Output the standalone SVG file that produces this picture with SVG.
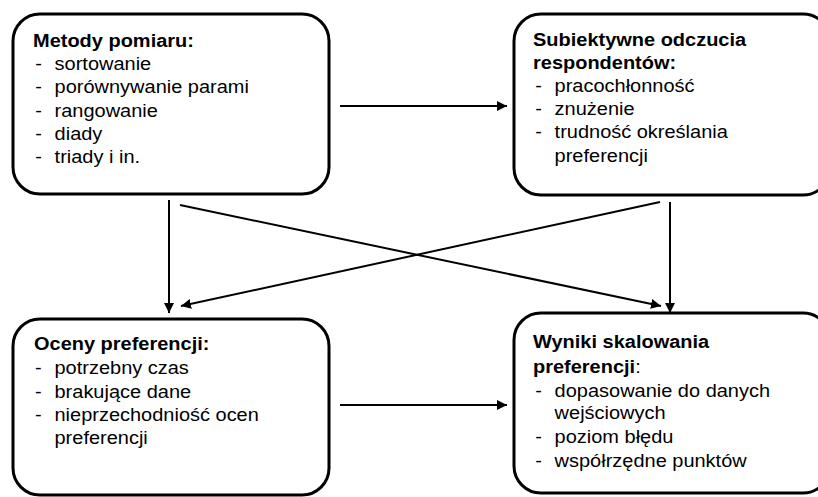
<svg xmlns="http://www.w3.org/2000/svg" width="818" height="497" viewBox="0 0 818 497">
<defs>
<marker id="ah" viewBox="0 0 10 10" refX="10" refY="5" markerWidth="5" markerHeight="5" orient="auto" markerUnits="strokeWidth">
<path d="M0,0 L10,5 L0,10 z" fill="#000"/>
</marker>
<style>
.box{fill:#fff;stroke:#000;stroke-width:3}
.t{font-family:"Liberation Sans",Arial,sans-serif;font-size:18.5px;fill:#000}
.b{font-weight:bold}
.c{stroke:#000;stroke-width:2;fill:none;marker-end:url(#ah)}
</style>
</defs>
<rect width="818" height="497" fill="#fff"/>
<g id="connectors">
<line class="c" x1="340" y1="106" x2="507" y2="106"/>
<line class="c" x1="340" y1="405" x2="507" y2="405"/>
<line class="c" x1="169" y1="200" x2="169" y2="313"/>
<line class="c" x1="670" y1="202" x2="670" y2="313"/>
<line class="c" x1="180" y1="205" x2="661" y2="306"/>
<line class="c" x1="660" y1="202" x2="181" y2="306"/>
</g>
<g id="node-metody">
<rect class="box" x="13" y="14" width="316" height="180" rx="27"/>
<g class="t" transform="translate(33,0) scale(1.08,1)">
<text class="b" x="0" y="47">Metody pomiaru:</text>
<text x="2" y="70">-</text><text x="20" y="70">sortowanie</text>
<text x="2" y="93">-</text><text x="20" y="93">porównywanie parami</text>
<text x="2" y="117">-</text><text x="20" y="117">rangowanie</text>
<text x="2" y="140">-</text><text x="20" y="140">diady</text>
<text x="2" y="163">-</text><text x="20" y="163">triady i in.</text>
</g>
</g>
<g id="node-subiektywne">
<rect class="box" x="514" y="14" width="316" height="181" rx="27"/>
<g class="t" transform="translate(533,0) scale(1.08,1)">
<text class="b" x="0" y="46">Subiektywne odczucia</text>
<text class="b" x="0" y="69">respondentów:</text>
<text x="2" y="92">-</text><text x="20" y="92">pracochłonność</text>
<text x="2" y="115">-</text><text x="20" y="115">znużenie</text>
<text x="2" y="138">-</text><text x="20" y="138">trudność określania</text>
<text x="20" y="162">preferencji</text>
</g>
</g>
<g id="node-oceny">
<rect class="box" x="13" y="319" width="316" height="176" rx="27"/>
<g class="t" transform="translate(34,0) scale(1.08,1)">
<text class="b" x="0" y="350">Oceny preferencji:</text>
<text x="1" y="374">-</text><text x="19" y="374">potrzebny czas</text>
<text x="1" y="398">-</text><text x="19" y="398">brakujące dane</text>
<text x="1" y="421">-</text><text x="19" y="421">nieprzechodniość ocen</text>
<text x="19" y="444">preferencji</text>
</g>
</g>
<g id="node-wyniki">
<rect class="box" x="514" y="313" width="316" height="180" rx="27"/>
<g class="t" transform="translate(533,0) scale(1.08,1)">
<text class="b" x="0" y="348">Wyniki skalowania</text>
<text x="0" y="373"><tspan class="b">preferencji</tspan>:</text>
<text x="2" y="397">-</text><text x="20" y="397">dopasowanie do danych</text>
<text x="20" y="419">wejściowych</text>
<text x="2" y="443">-</text><text x="20" y="443">poziom błędu</text>
<text x="2" y="467">-</text><text x="20" y="467">współrzędne punktów</text>
</g>
</g>
</svg>
